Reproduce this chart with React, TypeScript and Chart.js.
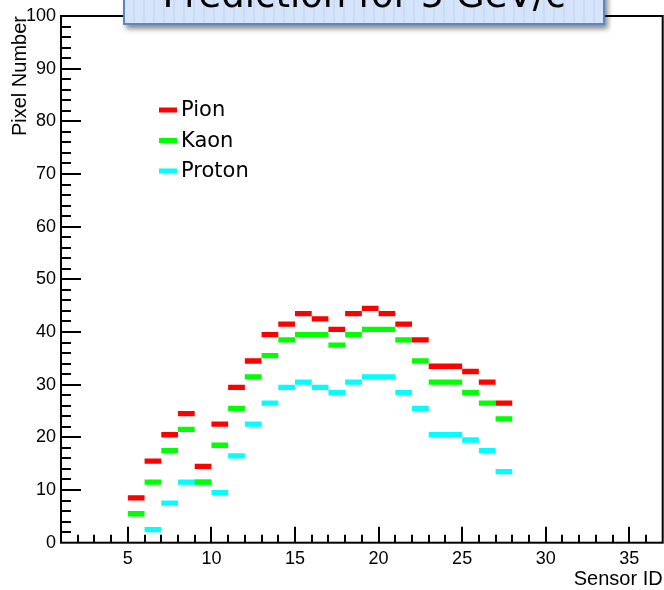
import React, { useEffect, useRef } from 'react';
import { Chart, registerables } from 'chart.js';

Chart.register(...registerables);

// ---- data ----
const SENSOR_IDS = [5, 6, 7, 8, 9, 10, 11, 12, 13, 14, 15, 16, 17, 18, 19, 20, 21, 22, 23, 24, 25, 26, 27];
const PION = [8.5, 15.5, 20.5, 24.5, 14.5, 22.5, 29.5, 34.5, 39.5, 41.5, 43.5, 42.5, 40.5, 43.5, 44.5, 43.5, 41.5, 38.5, 33.5, 33.5, 32.5, 30.5, 26.5];
const KAON = [5.5, 11.5, 17.5, 21.5, 11.5, 18.5, 25.5, 31.5, 35.5, 38.5, 39.5, 39.5, 37.5, 39.5, 40.5, 40.5, 38.5, 34.5, 30.5, 30.5, 28.5, 26.5, 23.5];
const PROTON: (number | null)[] = [null, 2.5, 7.5, 11.5, 11.5, 9.5, 16.5, 22.5, 26.5, 29.5, 30.5, 29.5, 28.5, 30.5, 31.5, 31.5, 28.5, 25.5, 20.5, 20.5, 19.5, 17.5, 13.5];
const SERIES_NAMES = ['Pion', 'Kaon', 'Proton'];
const X_TICKS = [5, 10, 15, 20, 25, 30, 35];
const Y_TICKS = [0, 10, 20, 30, 40, 50, 60, 70, 80, 90, 100];
const X_RANGE = [1, 37];
const Y_RANGE = [0, 100];
const TITLE = 'Prediction for 5 GeV/c';
const X_TITLE = 'Sensor ID';
const Y_TITLE = 'Pixel Number';

// each bin is drawn as a thick horizontal segment spanning [id, id+1]
function binSegments(values: (number | null)[]) {
  const pts: { x: number; y: number | null }[] = [];
  SENSOR_IDS.forEach((s, i) => {
    const v = values[i];
    if (v == null) return;
    pts.push({ x: s, y: v }, { x: s + 1, y: v }, { x: s + 1, y: null });
  });
  return pts;
}

const frameTicksPlugin = {
  id: 'frameTicks',
  afterDatasetsDraw(chart: any) {
    const { ctx, chartArea: a, scales } = chart;
    const xs = scales.x;
    const ys = scales.y;
    ctx.save();
    ctx.strokeStyle = '#000';
    ctx.lineWidth = 2;
    ctx.strokeRect(a.left, a.top, a.right - a.left, a.bottom - a.top);
    ctx.beginPath();
    for (let v = X_RANGE[0] + 1; v < X_RANGE[1]; v++) {
      const px = Math.round(xs.getPixelForValue(v));
      const len = v % 5 === 0 ? 16 : 8;
      ctx.moveTo(px, a.bottom);
      ctx.lineTo(px, a.bottom - len);
    }
    for (let v = Y_RANGE[0] + 2; v < Y_RANGE[1]; v += 2) {
      const py = Math.round(ys.getPixelForValue(v));
      const len = v % 10 === 0 ? 20 : 10;
      ctx.moveTo(a.left, py);
      ctx.lineTo(a.left + len, py);
    }
    ctx.stroke();
    ctx.restore();
  },
};

const legendPlugin = {
  id: 'innerLegend',
  afterDraw(chart: any) {
    const { ctx } = chart;
    ctx.save();
    ctx.font = '21px "DejaVu Sans"';
    ctx.textBaseline = 'middle';
    ctx.fillStyle = '#000';
    chart.data.datasets.forEach((ds: any, i: number) => {
      const y = 110 + i * 30.5;
      ctx.strokeStyle = ds.borderColor;
      ctx.lineWidth = 5;
      ctx.beginPath();
      ctx.moveTo(159, y);
      ctx.lineTo(177, y);
      ctx.stroke();
      ctx.fillText(ds.label, 181, y + 1);
    });
    ctx.restore();
  },
};

export default function App() {
  const canvasRef = useRef<HTMLCanvasElement | null>(null);

  useEffect(() => {
    if (!canvasRef.current) return;
    const colors = ['#ff0000', '#00ff00', '#00ffff'];
    const series = [PION, KAON, PROTON];
    const chart = new Chart(canvasRef.current, {
      type: 'line',
      data: {
        datasets: series.map((vals, i) => ({
          label: SERIES_NAMES[i],
          data: binSegments(vals),
          borderColor: colors[i],
          backgroundColor: colors[i],
          borderWidth: 5.3,
          borderCapStyle: 'butt',
          pointRadius: 0,
          pointHoverRadius: 0,
          spanGaps: false,
          tension: 0,
          fill: false,
        })),
      },
      options: {
        animation: false,
        responsive: false,
        devicePixelRatio: 1,
        parsing: false as any,
        layout: { padding: { left: 0, top: 16, right: 1.3, bottom: 0 } },
        plugins: {
          legend: { display: false },
          tooltip: { enabled: false },
          title: { display: false },
        },
        scales: {
          x: {
            type: 'linear',
            min: X_RANGE[0],
            max: X_RANGE[1],
            grid: { display: false, drawTicks: false },
            border: { display: false },
            afterBuildTicks: (s: any) => {
              s.ticks = X_TICKS.map((v) => ({ value: v }));
            },
            afterFit: (s: any) => {
              s.height = 47.3;
            },
            ticks: {
              color: '#000',
              padding: 6,
              maxRotation: 0,
              autoSkip: false,
              font: { family: '"Liberation Sans", Arial, sans-serif', size: 18 },
            },
            title: {
              display: true,
              text: X_TITLE,
              align: 'end',
              color: '#000',
              padding: { top: 0, bottom: -1 },
              font: { family: '"Liberation Sans", Arial, sans-serif', size: 20 },
            },
          },
          y: {
            type: 'linear',
            min: Y_RANGE[0],
            max: Y_RANGE[1],
            grid: { display: false, drawTicks: false },
            border: { display: false },
            afterBuildTicks: (s: any) => {
              s.ticks = Y_TICKS.map((v) => ({ value: v }));
            },
            afterFit: (s: any) => {
              s.width = 61;
            },
            ticks: {
              color: '#000',
              padding: 5,
              autoSkip: false,
              font: { family: '"Liberation Sans", Arial, sans-serif', size: 18 },
            },
            title: {
              display: true,
              text: Y_TITLE,
              align: 'end',
              color: '#000',
              padding: { top: 8, bottom: 0 },
              font: { family: '"Liberation Sans", Arial, sans-serif', size: 20 },
            },
          },
        },
      },
      plugins: [frameTicksPlugin, legendPlugin],
    } as any);
    return () => chart.destroy();
  }, []);

  return (
    <div style={{ position: 'absolute', left: 0, top: 0, width: 664, height: 590, overflow: 'hidden', background: '#fff' }}>
      <canvas ref={canvasRef} width={664} height={590} style={{ position: 'absolute', left: 0, top: 0, width: 664, height: 590 }} />
      <div
        style={{
          position: 'absolute',
          left: 123,
          top: -10,
          width: 482,
          height: 35,
          boxSizing: 'border-box',
          border: '2px solid #5b86c4',
          background: 'repeating-linear-gradient(90deg, #d5e4fb 0px, #d5e4fb 8px, #c9dbf5 8px, #c9dbf5 10px)',
          boxShadow: '3px 4px 5px rgba(0,0,0,0.45)',
          overflow: 'hidden',
        }}
      >
        <span
          style={{
            position: 'absolute',
            left: 0,
            right: 0,
            top: -15.8,
            textAlign: 'center',
            font: '37px "DejaVu Sans"',
            lineHeight: '37px',
            color: '#000',
            whiteSpace: 'nowrap',
          }}
        >
          {TITLE}
        </span>
      </div>
    </div>
  );
}
